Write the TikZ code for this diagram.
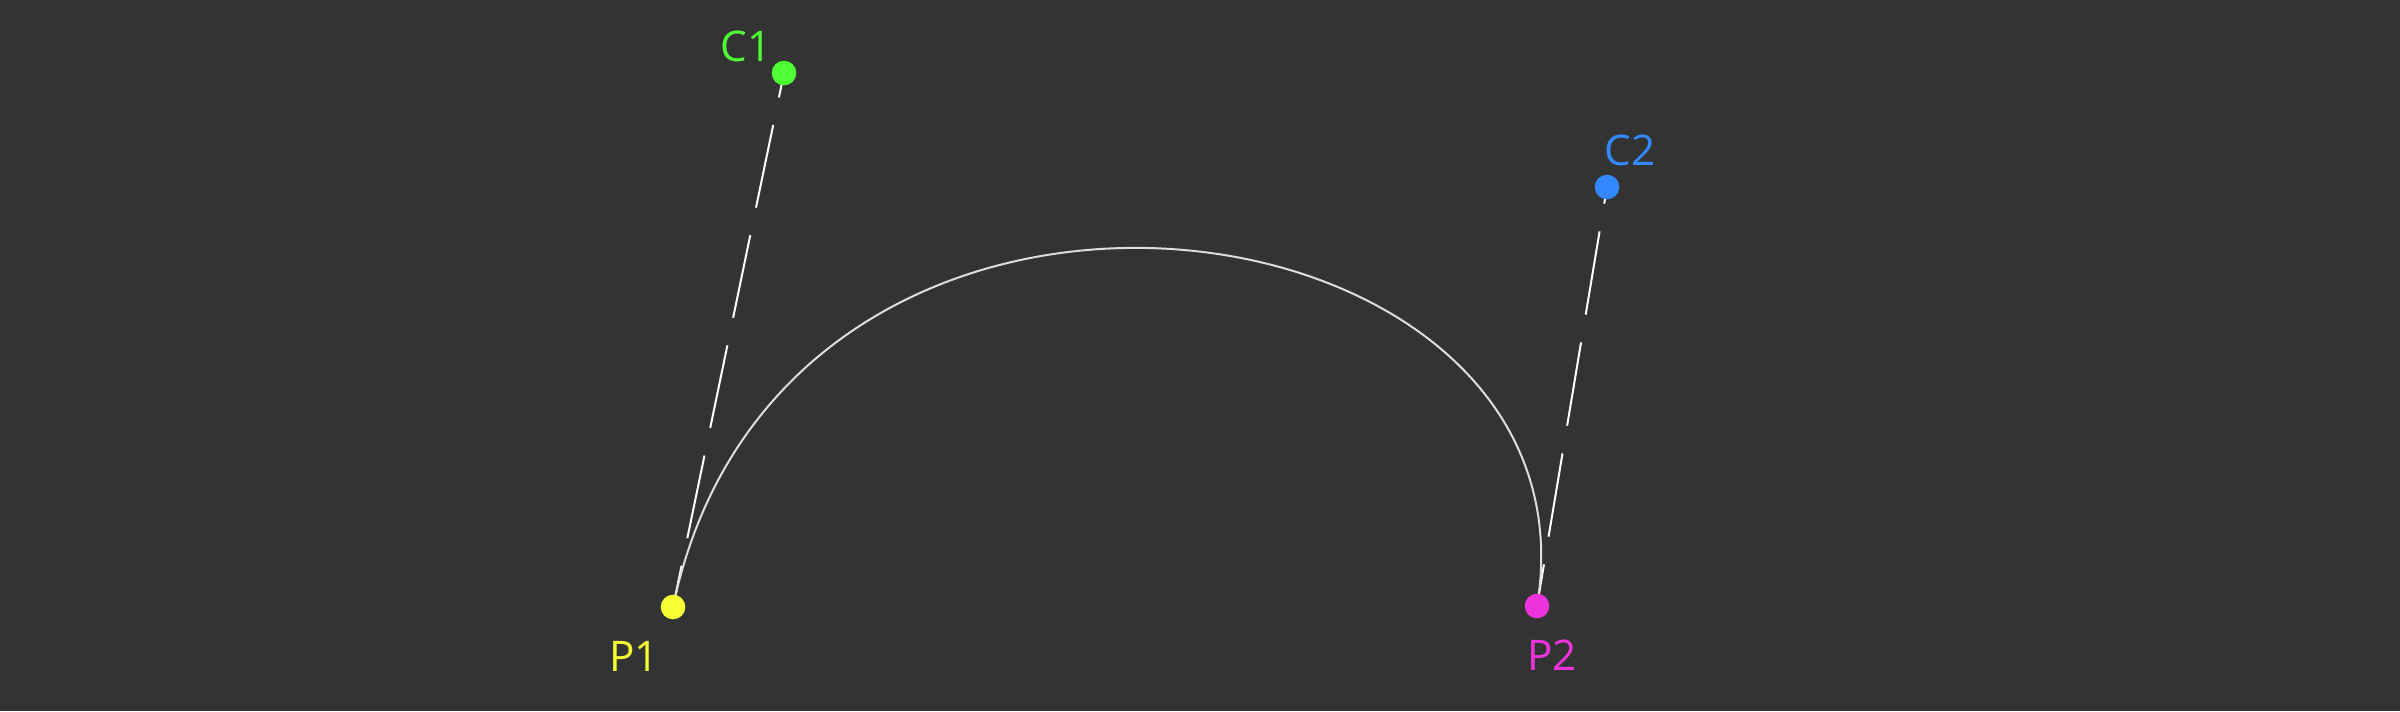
\documentclass[tikz,border=0pt]{standalone}
\usepackage{fontspec}
\setmainfont{Open Sans}
\usepackage{tikz}
\usetikzlibrary{positioning}

\definecolor{bgdark}{HTML}{333333}
\definecolor{ptyellow}{HTML}{F5FF33}
\definecolor{ptmagenta}{HTML}{EE33DD}
\definecolor{ctgreen}{HTML}{4DFF33}
\definecolor{ctblue}{HTML}{3388FF}
\definecolor{curvegray}{HTML}{DDDDDD}

\tikzset{
	dot/.style={circle, fill=#1, inner sep=0pt, minimum size=7pt},
	handle/.style={white, line width=0.57pt, dash pattern=on 24pt off 8pt, dash phase=12pt},
	lbl/.style={text=#1, inner sep=0pt, font=\fontsize{12}{14}\selectfont}
}

\begin{document}
\begin{tikzpicture}[x=0.01cm,y=-0.01cm]
	% background
	\fill[bgdark] (0,0) rectangle (2400,711);
	\useasboundingbox (0,0) rectangle (2400,711);
	
	% end and control points
	\coordinate (P1) at (673,607);
	\coordinate (C1) at (784,73);
	\coordinate (C2) at (1607,187);
	\coordinate (P2) at (1537,606);
	
	% draw handles
	\draw[handle] (P1) -- (C1);
	\draw[handle] (P2) -- (C2);
	
	% draw curve
	\draw[curvegray, line width=0.57pt] (P1) .. controls (C1) and (C2) .. (P2);
	
	% draw dots
	\node[dot=ptyellow] (p1) at (P1) {};
	\node[dot=ctgreen] (c1) at (C1) {};
	\node[dot=ctblue] (c2) at (C2) {};
	\node[dot=ptmagenta] (p2) at (P2) {};
	
	% draw labels
	\node[lbl=ptyellow] (p1lbl) at (634,656) {P1};
	\node[lbl=ctgreen] (c1lbl) at (746,46) {C1};
	\node[lbl=ctblue] (c2lbl) at (1630,150) {C2};
	\node[lbl=ptmagenta] (p2lbl) at (1552,655) {P2};
	
\end{tikzpicture}
\end{document}
